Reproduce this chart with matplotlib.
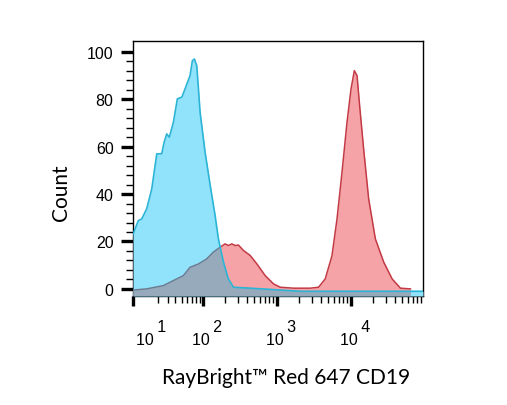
import matplotlib
matplotlib.use("Agg")
import matplotlib.pyplot as plt
from matplotlib.ticker import FixedLocator

# cyan histogram (unstained / control)
cyan_x = [0, 3.8, 6.3, 10.1, 14.2, 18.6, 23.4, 26.0, 28.8, 31.9, 37.1, 42.8, 50.0,
          55.8, 65.8, 71.1, 75.9, 82.0, 91.3, 107, 126, 147, 163, 191, 223, 261,
          440, 2090, 95000]
cyan_y = [23, 28.8, 29.5, 33.8, 42.2, 57, 57, 62, 65.4, 64, 70.3, 80.2, 80.9,
          84.4, 90, 96.3, 97, 94.2, 74.5, 57.7, 43.6, 30.9, 21.1, 11.3, 4.2, 0.7,
          0.3, -1, -1]

# red histogram (stained)
red_x = [0, 10.1, 25.1, 37.1, 52.7, 65.8, 86.4, 113, 139, 172, 201, 223, 248, 276,
         305, 357, 440, 543, 702, 910, 1120, 1700, 2850, 3690, 4540, 5600, 6550,
         7650, 8940, 10130, 11230, 12210, 13240, 15000, 17530, 21600, 28000, 36400,
         47100, 64300]
red_y = [-0.5, 0, 1.4, 3.5, 5.6, 9.1, 10.5, 12.7, 15.5, 17.6, 19, 18.3, 19, 18.3,
         18.5, 16.2, 14.1, 10.5, 5.6, 2.1, 0.7, 0.3, 0.3, 0.7, 4.2, 14, 29.5,
         49.2, 70.3, 84.4, 92.1, 90, 77.3, 59, 38, 21.1, 11.3, 4.2, 0.3, 0]

x_major = [0, 10, 100, 1000, 10000]
x_exponents = ['', '1', '2', '3', '4']
y_major = [0, 20, 40, 60, 80, 100]

cyan_fill_c = '#90E3FA'
cyan_edge_c = '#2CB4D6'
red_fill_c = '#F6A3A7'
red_edge_c = '#C23A44'
overlap_c = '#97AABB'

fig = plt.figure(figsize=(5.07, 4.06), dpi=100)
ax = fig.add_axes([133 / 507, 1 - 297 / 406, 290 / 507, 255 / 406])

ax.set_xscale('asinh', linear_width=23)
ax.set_xlim(0, 95000)
ybot = -3
ax.set_ylim(ybot, 104.6)

ax.fill_between(red_x, red_y, ybot, color=red_fill_c, lw=0, zorder=1)
ax.plot(red_x, red_y, color=red_edge_c, lw=1.1, zorder=2)
cyan_fill = ax.fill_between(cyan_x, cyan_y, ybot, color=cyan_fill_c, lw=0, zorder=3)

# overlap region: red shape clipped to the cyan shape
clip_path = cyan_fill.get_paths()[0]
overlap = ax.fill_between(red_x, red_y, ybot, color=overlap_c, lw=0, zorder=4)
overlap.set_clip_path(clip_path, cyan_fill.get_transform())
red_in = ax.plot(red_x, red_y, color='#6E7C92', lw=1.1, zorder=5)[0]
red_in.set_clip_path(clip_path, cyan_fill.get_transform())

ax.plot(cyan_x, cyan_y, color=cyan_edge_c, lw=1.2, zorder=6)

# ticks
tick_font = ['Liberation Sans', 'DejaVu Sans']
minor_x = [m * d for d in x_major[1:] for m in range(2, 10)]
x_labels = [('      \u2009' + e + '\n  10') if e else '' for e in x_exponents]
ax.set_xticks(x_major, labels=x_labels, linespacing=0.8, multialignment='left',
              fontsize=11.5, family=tick_font)
ax.xaxis.get_major_ticks()[1].tick1line.set_visible(False)
ax.xaxis.set_minor_locator(FixedLocator(minor_x))
ax.set_yticks(y_major)
ax.yaxis.set_minor_locator(FixedLocator(range(0, 101, 4)))
for lbl in ax.get_yticklabels():
    lbl.set_fontsize(11.5)
    lbl.set_family(tick_font)

ax.tick_params(axis='both', which='major', direction='out', width=2.4, color='black')
ax.tick_params(axis='both', which='minor', direction='out', length=4.8, width=1,
               color='black')
ax.tick_params(axis='x', which='major', length=7.5, pad=9)
ax.tick_params(axis='y', which='major', length=9, pad=5)

for s in ax.spines.values():
    s.set_linewidth(1.0)
    s.set_color('black')

ax.set_xlabel('RayBright™ Red 647 CD19', fontsize=15, family=['Lato', 'DejaVu Sans'])
ax.xaxis.set_label_coords((286 - 133) / 290, -0.28)
ax.set_ylabel('Count', fontsize=15, family=['Lato', 'DejaVu Sans'])
ax.yaxis.set_label_coords(-0.215, 0.408)

fig.savefig('out.png', dpi=100)
